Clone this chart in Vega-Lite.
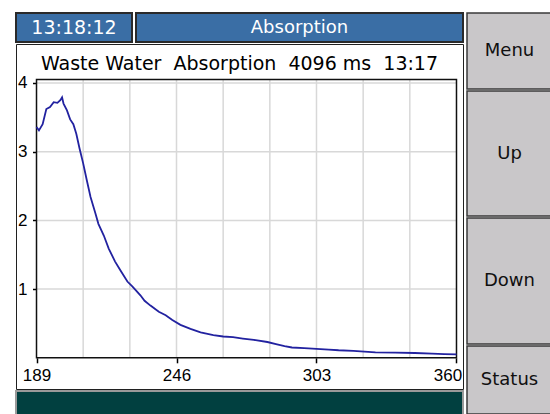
{
  "$schema": "https://vega.github.io/schema/vega-lite/v6.json",
  "padding": {"left": 15, "top": 12, "right": 0, "bottom": 0},
  "background": "white",
  "config": {"font": "DejaVu Sans"},
  "spacing": 2,
  "hconcat": [
    {
      "spacing": 0,
      "vconcat": [
        {
          "bounds": "flush",
          "spacing": 4,
          "hconcat": [
            {
              "width": 116, "height": 29,
              "view": {"fill": "#3a6ea5", "stroke": "#2a2a2a", "strokeWidth": 2},
              "data": {"values": [{"label": "13:18:12"}]},
              "mark": {"type": "text", "color": "white", "font": "DejaVu Sans", "fontSize": 19},
              "encoding": {"text": {"field": "label"}}
            },
            {
              "width": 327, "height": 29,
              "view": {"fill": "#3a6ea5", "stroke": "#2a2a2a", "strokeWidth": 2},
              "data": {"values": [{"label": "Absorption"}]},
              "mark": {"type": "text", "color": "white", "font": "DejaVu Sans", "fontSize": 18},
              "encoding": {"text": {"field": "label"}}
            }
          ]
        },
        {
          "width": 447, "height": 345,
          "view": {"fill": "white", "stroke": "#202020", "strokeWidth": 1},
          "title": {"text": "Waste Water\u00a0 Absorption\u00a0 4096 ms\u00a0 13:17", "anchor": "middle", "frame": "group", "offset": -39, "baseline": "middle", "font": "DejaVu Sans", "fontSize": 19, "fontWeight": "normal", "color": "black"},
          "layer": [
            {
              "data": {"values": [{"nm": 208}, {"nm": 227}, {"nm": 246}, {"nm": 265}, {"nm": 284}, {"nm": 303}, {"nm": 322}, {"nm": 341}]},
              "mark": {"type": "rule", "color": "#d8d8d8", "strokeWidth": 1.5},
              "encoding": {
                "x": {"field": "nm", "type": "quantitative", "scale": {"domain": [180.65, 362.65], "nice": false, "zero": false}},
                "y": {"datum": 0, "type": "quantitative", "scale": {"domain": [-0.454, 4.567], "nice": false, "zero": false}},
                "y2": {"datum": 4.05}
              }
            },
            {
              "data": {"values": [{"abs": 1}, {"abs": 2}, {"abs": 3}, {"abs": 4}]},
              "mark": {"type": "rule", "color": "#d8d8d8", "strokeWidth": 1.5},
              "encoding": {
                "y": {"field": "abs", "type": "quantitative", "scale": {"domain": [-0.454, 4.567], "nice": false, "zero": false}},
                "x": {"datum": 189, "type": "quantitative", "scale": {"domain": [180.65, 362.65], "nice": false, "zero": false}},
                "x2": {"datum": 360}
              }
            },
            {
              "data": {"values": [{"part": "frame"}]},
              "mark": {"type": "rect", "filled": false, "stroke": "#101010", "strokeWidth": 1.5},
              "encoding": {
                "x": {"datum": 189, "type": "quantitative", "scale": {"domain": [180.65, 362.65], "nice": false, "zero": false}},
                "x2": {"datum": 360},
                "y": {"datum": 0, "type": "quantitative", "scale": {"domain": [-0.454, 4.567], "nice": false, "zero": false}},
                "y2": {"datum": 4.05}
              }
            },
            {
              "data": {"values": [
                {"nm": 189, "abs": 3.36}, {"nm": 190, "abs": 3.31}, {"nm": 191.5, "abs": 3.40}, {"nm": 193, "abs": 3.62},
                {"nm": 194.5, "abs": 3.65}, {"nm": 196, "abs": 3.72}, {"nm": 197.5, "abs": 3.71}, {"nm": 198.7, "abs": 3.75},
                {"nm": 199.4, "abs": 3.79}, {"nm": 200, "abs": 3.70}, {"nm": 201.4, "abs": 3.60}, {"nm": 202.7, "abs": 3.47},
                {"nm": 204, "abs": 3.40}, {"nm": 205.2, "abs": 3.26}, {"nm": 206.5, "abs": 3.05}, {"nm": 208, "abs": 2.83},
                {"nm": 209.5, "abs": 2.58}, {"nm": 211, "abs": 2.34}, {"nm": 213, "abs": 2.10}, {"nm": 214.2, "abs": 1.95},
                {"nm": 216.4, "abs": 1.78}, {"nm": 218.4, "abs": 1.59}, {"nm": 221, "abs": 1.40}, {"nm": 223.2, "abs": 1.27},
                {"nm": 226, "abs": 1.11}, {"nm": 228, "abs": 1.04}, {"nm": 231.3, "abs": 0.91}, {"nm": 233, "abs": 0.83},
                {"nm": 235.4, "abs": 0.76}, {"nm": 238.8, "abs": 0.67}, {"nm": 241.6, "abs": 0.62}, {"nm": 244.3, "abs": 0.55},
                {"nm": 247.6, "abs": 0.48}, {"nm": 251.7, "abs": 0.42}, {"nm": 255.8, "abs": 0.37}, {"nm": 261, "abs": 0.33},
                {"nm": 265, "abs": 0.31}, {"nm": 269, "abs": 0.30}, {"nm": 273, "abs": 0.28}, {"nm": 277.5, "abs": 0.26},
                {"nm": 283, "abs": 0.23}, {"nm": 286.5, "abs": 0.20}, {"nm": 290, "abs": 0.17}, {"nm": 293, "abs": 0.15},
                {"nm": 298, "abs": 0.14}, {"nm": 303, "abs": 0.13}, {"nm": 308, "abs": 0.12}, {"nm": 312, "abs": 0.11},
                {"nm": 318, "abs": 0.10}, {"nm": 327, "abs": 0.08}, {"nm": 335, "abs": 0.075}, {"nm": 343, "abs": 0.07},
                {"nm": 350, "abs": 0.06}, {"nm": 355, "abs": 0.055}, {"nm": 360, "abs": 0.05}
              ]},
              "mark": {"type": "line", "color": "#2222a0", "strokeWidth": 1.8},
              "encoding": {
                "x": {"field": "nm", "type": "quantitative", "scale": {"domain": [180.65, 362.65], "nice": false, "zero": false},
                  "axis": {"values": [189, 246, 303, 360], "offset": -31.2, "grid": false, "domain": false, "tickSize": 5, "tickColor": "black", "tickWidth": 1.5, "labelFont": "Liberation Sans", "labelFontSize": 17, "labelColor": "black", "labelPadding": 5, "labelFlush": false, "labelOffset": {"expr": "datum.value == 360 ? -9 : 0"}, "title": null}},
                "y": {"field": "abs", "type": "quantitative", "scale": {"domain": [-0.454, 4.567], "nice": false, "zero": false},
                  "axis": {"values": [1, 2, 3, 4], "format": "d", "offset": -20.5, "grid": false, "domain": false, "tickSize": 4, "tickColor": "black", "tickWidth": 1.5, "labelFont": "Liberation Sans", "labelFontSize": 17, "labelColor": "black", "labelAlign": "left", "labelPadding": 15, "title": null}}
              }
            }
          ]
        },
        {
          "width": 447, "height": 24,
          "view": {"fill": "#014040", "stroke": "#9a9a9a", "strokeWidth": 2},
          "data": {"values": [{"label": ""}]},
          "mark": {"type": "text"},
          "encoding": {"text": {"field": "label"}}
        }
      ]
    },
    {
      "bounds": "flush",
      "spacing": 2,
      "vconcat": [
        {
          "width": 85, "height": 76,
          "view": {"fill": "#c9c7c9", "stroke": "#3a3a3a", "strokeWidth": 1.5},
          "data": {"values": [{"label": "Menu"}]},
          "mark": {"type": "text", "font": "DejaVu Sans", "fontSize": 18, "color": "#101010"},
          "encoding": {"text": {"field": "label"}}
        },
        {
          "width": 85, "height": 125,
          "view": {"fill": "#c9c7c9", "stroke": "#3a3a3a", "strokeWidth": 1.5},
          "data": {"values": [{"label": "Up"}]},
          "mark": {"type": "text", "font": "DejaVu Sans", "fontSize": 18, "color": "#101010"},
          "encoding": {"text": {"field": "label"}}
        },
        {
          "width": 85, "height": 126,
          "view": {"fill": "#c9c7c9", "stroke": "#3a3a3a", "strokeWidth": 1.5},
          "data": {"values": [{"label": "Down"}]},
          "mark": {"type": "text", "font": "DejaVu Sans", "fontSize": 18, "color": "#101010"},
          "encoding": {"text": {"field": "label"}}
        },
        {
          "width": 85, "height": 68,
          "view": {"fill": "#c9c7c9", "stroke": "#3a3a3a", "strokeWidth": 1.5},
          "data": {"values": [{"label": "Status"}]},
          "mark": {"type": "text", "font": "DejaVu Sans", "fontSize": 18, "color": "#101010"},
          "encoding": {"text": {"field": "label"}}
        }
      ]
    }
  ]
}
